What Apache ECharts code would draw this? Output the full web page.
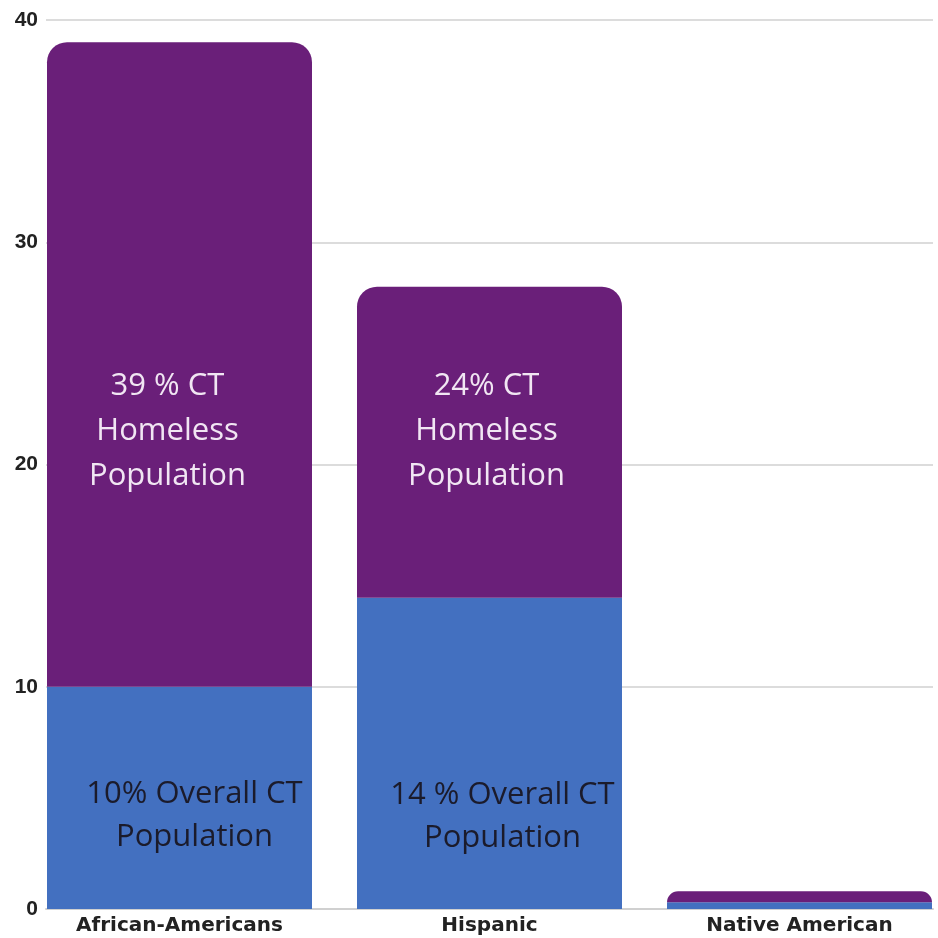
<!DOCTYPE html>
<html>
<head>
<meta charset="utf-8">
<script src="https://cdn.jsdelivr.net/npm/echarts@6/dist/echarts.min.js"></script>
<style>
  html, body { margin: 0; padding: 0; background: #fff; }
  #chart { width: 938px; height: 938px; }
</style>
</head>
<body>
<div id="chart"></div>
<script>
const categories = ["African-Americans", "Hispanic", "Native American"];
// share of overall CT population (blue, bottom)
const overallValues = [10, 14, 0.3];
// extra share on top to reach the homeless population share (purple)
const homelessExtra = [29, 14, 0.5];
const yTicks = [0, 10, 20, 30, 40];

const homelessLabels = ["39 % CT\nHomeless\nPopulation", "24% CT\nHomeless\nPopulation", ""];
const overallLabels = ["10% Overall CT\nPopulation", "14 % Overall CT\nPopulation", ""];
const homelessOffsets = [[-12, 67], [-3, -11], [0, 0]];
const overallOffsets = [[15, 18], [13, 63], [0, 0]];

const chart = echarts.init(document.getElementById("chart"));

const labelFont = '"Open Sans", sans-serif';
const axisFont = '"Liberation Sans", Arial, sans-serif';

const blueData = overallValues.map((v, i) => ({
  value: v,
  label: {
    show: overallLabels[i] !== "",
    formatter: overallLabels[i],
    offset: overallOffsets[i]
  }
}));

const purpleData = homelessExtra.map((v, i) => ({
  value: v,
  label: {
    show: homelessLabels[i] !== "",
    formatter: homelessLabels[i],
    offset: homelessOffsets[i]
  }
}));

const option = {
  animation: false,
  // grid 0: bars (bands wider so bars touch plot edges); grid 1: y axis + gridlines
  grid: [
    { left: 24.5, width: 930, top: 20, bottom: 29, outerBoundsMode: "none" },
    { left: 46, right: 5, top: 20, bottom: 29 }
  ],
  xAxis: [
    {
      type: "category",
      gridIndex: 0,
      data: categories,
      axisTick: { show: false },
      axisLine: { show: false },
      axisLabel: {
        margin: 7,
        fontFamily: '"DejaVu Sans", sans-serif',
        fontWeight: "bold",
        fontSize: 20,
        color: "#222"
      }
    },
    {
      type: "category",
      gridIndex: 1,
      data: categories,
      axisTick: { show: false },
      axisLabel: { show: false },
      axisLine: { show: true, lineStyle: { color: "#d0d0d0", width: 2 } }
    }
  ],
  yAxis: [
    {
      type: "value",
      gridIndex: 0,
      min: yTicks[0],
      max: yTicks[yTicks.length - 1],
      interval: 10,
      show: false
    },
    {
      type: "value",
      gridIndex: 1,
      min: yTicks[0],
      max: yTicks[yTicks.length - 1],
      interval: 10,
      axisLine: { show: false },
      axisTick: { show: false },
      splitLine: { lineStyle: { color: "#dcdcdc", width: 2 } },
      axisLabel: {
        margin: 8,
        fontFamily: axisFont,
        fontWeight: "bold",
        fontSize: 21,
        color: "#222"
      }
    }
  ],
  series: [
    {
      name: "Overall CT Population",
      type: "bar",
      stack: "total",
      xAxisIndex: 0,
      yAxisIndex: 0,
      barWidth: 265,
      data: blueData,
      itemStyle: { color: "#4370c0" },
      label: {
        position: "inside",
        fontFamily: labelFont,
        fontSize: 31,
        lineHeight: 43,
        color: "#1b1b2b",
        align: "center"
      }
    },
    {
      name: "CT Homeless Population",
      type: "bar",
      stack: "total",
      xAxisIndex: 0,
      yAxisIndex: 0,
      barWidth: 265,
      data: purpleData,
      itemStyle: { color: "#6a1f79", borderRadius: [20, 20, 0, 0] },
      label: {
        position: "inside",
        fontFamily: labelFont,
        fontSize: 31,
        lineHeight: 45,
        color: "#f1e6f3",
        align: "center"
      }
    }
  ]
};

chart.setOption(option);
</script>
</body>
</html>
